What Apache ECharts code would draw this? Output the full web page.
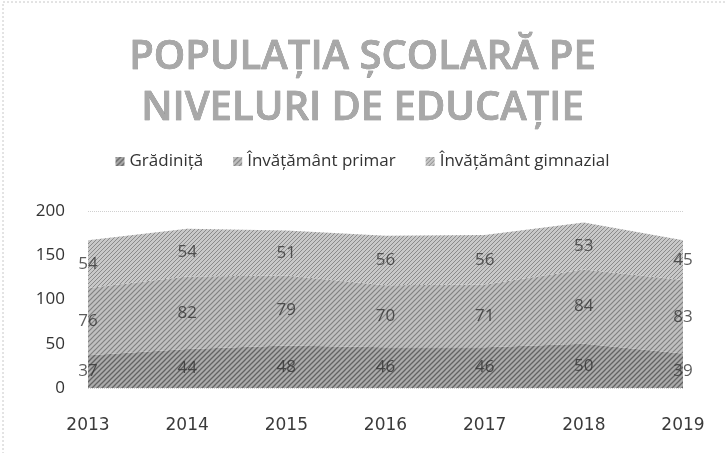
<!DOCTYPE html>
<html><head><meta charset="utf-8">
<script src="https://cdn.jsdelivr.net/npm/echarts@6/dist/echarts.min.js"></script>
<style>html,body{margin:0;padding:0;background:#fff}#c{width:725px;height:453px}</style>
</head><body><div id="c"></div>
<script>
const categories = ['2013','2014','2015','2016','2017','2018','2019'];
const gradinita = [37, 44, 48, 46, 46, 50, 39];
const primar = [76, 82, 79, 70, 71, 84, 83];
const gimnazial = [54, 54, 51, 56, 56, 53, 45];
const seriesNames = ['Grădiniță', 'Învățământ primar', 'Învățământ gimnazial'];
const yTicks = [0, 50, 100, 150, 200];

function hatch(bg, fg, size, lw) {
  const c = document.createElement('canvas');
  c.width = size; c.height = size;
  const g = c.getContext('2d');
  g.fillStyle = bg; g.fillRect(0, 0, size, size);
  g.strokeStyle = fg; g.lineWidth = lw;
  g.beginPath();
  g.moveTo(-1, size + 1); g.lineTo(size + 1, -1);
  g.moveTo(-1, 1); g.lineTo(1, -1);
  g.moveTo(size - 1, size + 1); g.lineTo(size + 1, size - 1);
  g.stroke();
  return { image: c, repeat: 'repeat' };
}
const pats = [
  hatch('#ababab', '#626262', 5, 1.3),
  hatch('#c0c0c0', '#808080', 5, 1.2),
  hatch('#c8c8c8', '#8a8a8a', 4, 1.0)
];
const values = [gradinita, primar, gimnazial];
const areaSeries = values.map((v, i) => ({
  name: seriesNames[i], type: 'line', stack: 'total', data: v,
  showSymbol: false, symbol: 'none', silent: true,
  color: '#999',
  lineStyle: { width: 0 },
  areaStyle: { color: pats[i], opacity: 1 },
  z: 2
}));
const labelSeries = values.map((v, i) => ({
  name: 'lbl' + i, type: 'scatter', symbolSize: 0, silent: true, z: 5,
  data: v.map((val, k) => {
    let base = 0;
    for (let j = 0; j < i; j++) base += values[j][k];
    return { value: base + val / 2, raw: val };
  }),
  label: { show: true, position: 'inside',
    formatter: p => String(p.data.raw),
    fontFamily: 'Open Sans', fontSize: 17, color: '#333' }
}));
const chart = echarts.init(document.getElementById('c'));
chart.setOption({
  animation: false,
  backgroundColor: '#fff',
  title: {
    text: 'POPULAȚIA ȘCOLARĂ PE\nNIVELURI DE EDUCAȚIE',
    left: 'center', top: 27,
    textStyle: { fontFamily: 'Open Sans', fontWeight: 600, fontSize: 40, lineHeight: 51,
      color: '#a8a8a8', textBorderColor: '#7a7a7a', textBorderWidth: 0.6 }
  },
  legend: {
    data: seriesNames.map((n, i) => ({ name: n, itemStyle: { color: pats[i] } })),
    top: 148, left: 'center', icon: 'rect', itemWidth: 9, itemHeight: 9, itemGap: 30,
    textStyle: { fontFamily: 'Open Sans', fontSize: 17, color: '#333' }
  },
  graphic: [{ type: 'rect', shape: { x: 3, y: 2, width: 800, height: 600 },
    style: { fill: 'none', stroke: '#c8c8c8', lineWidth: 1, lineDash: [2, 2] }, silent: true }],
  grid: { left: 88, right: 42, top: 211, bottom: 65 },
  xAxis: {
    type: 'category', data: categories, boundaryGap: false,
    axisLine: { show: false }, axisTick: { show: false },
    axisLabel: { margin: 29, fontFamily: 'DejaVu Sans', fontSize: 17, color: '#3a3a3a' }
  },
  yAxis: {
    type: 'value', min: yTicks[0], max: yTicks[yTicks.length - 1], interval: 50,
    axisLine: { show: false }, axisTick: { show: false },
    axisLabel: { margin: 23, fontFamily: 'Open Sans', fontSize: 17, color: '#333' },
    splitLine: { lineStyle: { color: '#d0d0d0', type: 'dotted' } }
  },
  series: areaSeries.concat(labelSeries)
});
</script></body></html>
